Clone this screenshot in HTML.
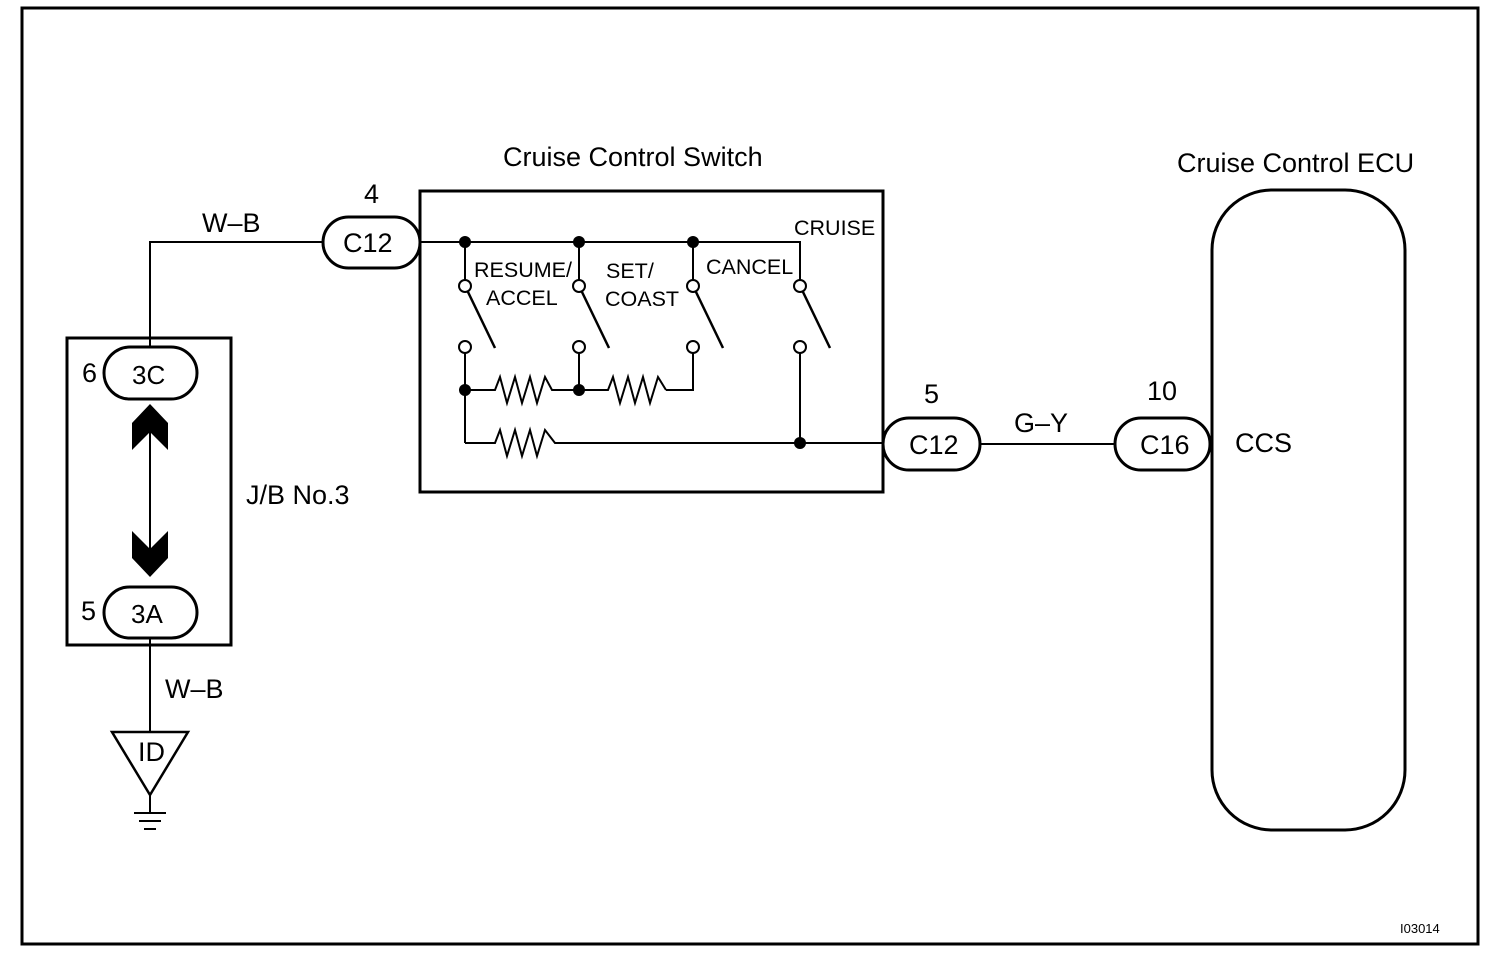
<!DOCTYPE html>
<html><head><style>body{margin:0;background:#fff}svg{display:block}text{font-family:"Liberation Sans",sans-serif;fill:#000}</style></head><body>
<svg width="1504" height="968" viewBox="0 0 1504 968" xmlns="http://www.w3.org/2000/svg">
<rect x="22" y="8" width="1456" height="936" fill="none" stroke="#000" stroke-width="3"/>
<g fill="none" stroke="#000" stroke-width="2">
<polyline points="323,242 150,242 150,347"/>
<rect x="67" y="338" width="164" height="307" stroke-width="3"/>
<line x1="150" y1="420" x2="150" y2="560"/>
<line x1="150" y1="638" x2="150" y2="732"/>
<polygon points="112,732 188,732 150,795" stroke-width="2.5"/>
<line x1="150" y1="795" x2="150" y2="812"/>
<line x1="134" y1="813" x2="166" y2="813"/>
<line x1="139" y1="821" x2="161" y2="821"/>
<line x1="144" y1="829" x2="156" y2="829"/>
<rect x="420" y="191" width="463" height="301" stroke-width="3"/>
<polyline points="420,242 800,242 800,281"/>
<line x1="465" y1="242" x2="465" y2="280"/><line x1="579" y1="242" x2="579" y2="280"/><line x1="693" y1="242" x2="693" y2="280"/>
<g stroke-width="2.5">
<line x1="468" y1="292" x2="495" y2="348"/><line x1="582" y1="292" x2="609" y2="348"/><line x1="696" y1="292" x2="723" y2="348"/><line x1="803" y1="292" x2="830" y2="348"/>
</g>
<line x1="465" y1="353" x2="465" y2="443"/><line x1="579" y1="353" x2="579" y2="390"/>
<polyline points="693,353 693,390 666,390"/>
<polyline points="465,390 495,390 500,377 507,403 515,377 522,403 530,377 537,403 545,377 552,390 608,390 613,377 620,403 628,377 635,403 643,377 650,403 658,377 666,390"/>
<polyline points="465,443 495,443 500,430 507,456 515,430 522,456 530,430 537,456 545,430 555,443 883,443"/>
<line x1="800" y1="353" x2="800" y2="443"/>
<circle cx="465" cy="286" r="6"/><circle cx="579" cy="286" r="6"/><circle cx="693" cy="286" r="6"/><circle cx="800" cy="286" r="6"/>
<circle cx="465" cy="347" r="6"/><circle cx="579" cy="347" r="6"/><circle cx="693" cy="347" r="6"/><circle cx="800" cy="347" r="6"/>
<line x1="980" y1="444" x2="1115" y2="444"/>
<rect x="1212" y="190" width="193" height="640" rx="60" stroke-width="3"/>
<g stroke-width="3" fill="#fff">
<rect x="323" y="217" width="97" height="51" rx="25.5"/>
<rect x="883" y="418" width="97" height="52" rx="26"/>
<rect x="1115" y="418" width="95" height="52" rx="26"/>
<rect x="104" y="347" width="93" height="52" rx="26"/>
<rect x="104" y="587" width="93" height="51" rx="25.5"/>
</g>
</g>
<g fill="#000">
<circle cx="465" cy="242" r="6"/><circle cx="579" cy="242" r="6"/><circle cx="693" cy="242" r="6"/>
<circle cx="465" cy="390" r="6"/><circle cx="579" cy="390" r="6"/><circle cx="800" cy="443" r="6"/>
<polygon points="150,404 168,423 168,450 150,432 132,450 132,423"/>
<polygon points="150,577 168,558 168,531 150,549 132,531 132,558"/>
</g>
<g font-size="27">
<text x="503" y="166">Cruise Control Switch</text>
<text x="1177" y="172">Cruise Control ECU</text>
<text x="202" y="232">W–B</text>
<text x="364" y="203">4</text>
<text x="343" y="252">C12</text>
<text x="924" y="403">5</text>
<text x="909" y="454">C12</text>
<text x="1014" y="432">G–Y</text>
<text x="1147" y="400">10</text>
<text x="1140" y="454">C16</text>
<text x="1235" y="452">CCS</text>
<text x="82" y="382">6</text>
<text x="81" y="620">5</text>
<text x="246" y="504">J/B No.3</text>
<text x="165" y="698">W–B</text>
<text x="138" y="761">ID</text>
</g>
<g font-size="26">
<text x="132" y="384">3C</text>
<text x="131" y="623">3A</text>
</g>
<g font-size="21.5">
<text x="794" y="235">CRUISE</text>
<text x="474" y="277">RESUME/</text>
<text x="486" y="305">ACCEL</text>
<text x="606" y="278">SET/</text>
<text x="605" y="306">COAST</text>
<text x="706" y="274">CANCEL</text>
</g>
<text x="1400" y="933" font-size="13">I03014</text>
</svg>
</body></html>
